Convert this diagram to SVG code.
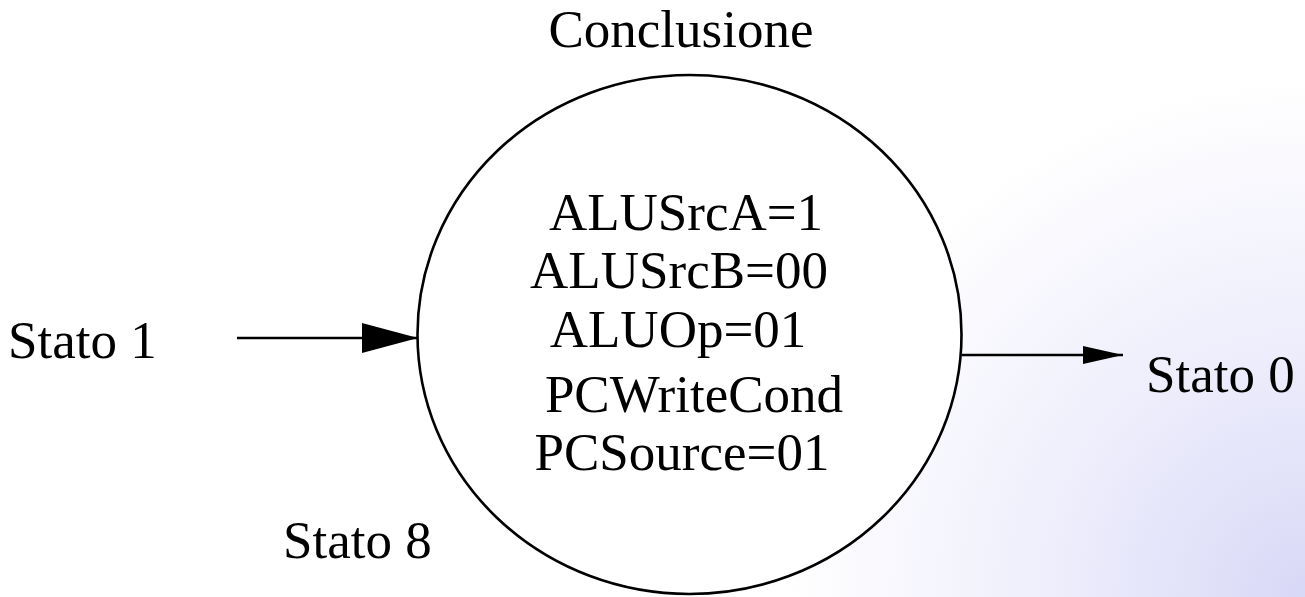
<svg xmlns="http://www.w3.org/2000/svg" width="1305" height="597" viewBox="0 0 1305 597">
  <defs>
    <radialGradient id="bgGlow" gradientUnits="userSpaceOnUse" cx="1305" cy="597" r="520">
      <stop offset="0" stop-color="#d8d8f7"/>
      <stop offset="0.5" stop-color="#eeeefc"/>
      <stop offset="1" stop-color="#ffffff"/>
    </radialGradient>
    <marker id="headBig" viewBox="0 0 56 30" refX="56" refY="15" markerWidth="56" markerHeight="30" markerUnits="userSpaceOnUse" orient="auto">
      <path d="M0,0 L56,15 L0,30 Z" fill="#000"/>
    </marker>
    <marker id="headSmall" viewBox="0 0 40 18" refX="40" refY="9" markerWidth="40" markerHeight="18" markerUnits="userSpaceOnUse" orient="auto">
      <path d="M0,0 L40,9 L0,18 Z" fill="#000"/>
    </marker>
  </defs>
  <style>
    text { font-family: "Liberation Serif", "Times New Roman", serif; font-size: 53px; fill: #000; }
    .mid { text-anchor: middle; }
    .edge { stroke: #000; stroke-width: 2.6; fill: none; }
  </style>

  <rect x="0" y="0" width="1305" height="597" fill="url(#bgGlow)"/>

  <g id="state8">
    <ellipse cx="689.5" cy="334.5" rx="272" ry="259.5" fill="#fff" stroke="#000" stroke-width="2.6"/>
    <text class="mid" x="681" y="47">Conclusione</text>
    <text class="mid" x="686" y="230">ALUSrcA=1</text>
    <text class="mid" x="679" y="288">ALUSrcB=00</text>
    <text class="mid" x="678" y="347">ALUOp=01</text>
    <text class="mid" x="694" y="412">PCWriteCond</text>
    <text class="mid" x="682" y="470">PCSource=01</text>
    <text x="283" y="558">Stato 8</text>
  </g>

  <g id="state1">
    <text x="8" y="358">Stato 1</text>
  </g>

  <g id="state0">
    <text x="1146" y="392">Stato 0</text>
  </g>

  <g id="connectors">
    <line class="edge" x1="237" y1="338" x2="418" y2="338" marker-end="url(#headBig)"/>
    <line class="edge" x1="962" y1="355" x2="1123" y2="355" marker-end="url(#headSmall)"/>
  </g>
</svg>
